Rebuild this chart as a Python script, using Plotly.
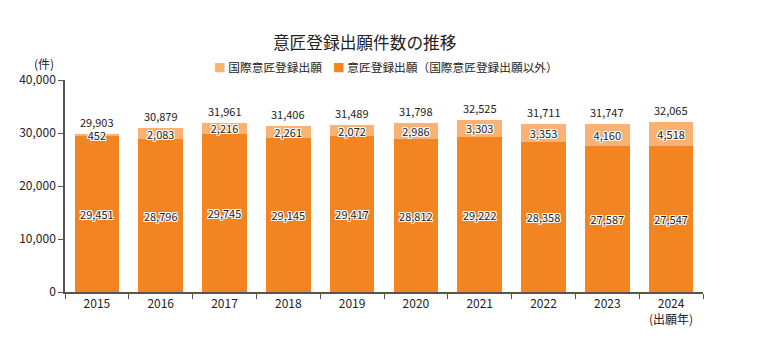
import plotly.graph_objects as go

years = ["2015", "2016", "2017", "2018", "2019", "2020", "2021", "2022", "2023", "2024"]
tick_labels = ["2015", "2016", "2017", "2018", "2019", "2020", "2021", "2022", "2023", "2024<br>(出願年)"]
domestic = [29451, 28796, 29745, 29145, 29417, 28812, 29222, 28358, 27587, 27547]
international = [452, 2083, 2216, 2261, 2072, 2986, 3303, 3353, 4160, 4518]
totals = [29903, 30879, 31961, 31406, 31489, 31798, 32525, 31711, 31747, 32065]
series_names = ["国際意匠登録出願", "意匠登録出願（国際意匠登録出願以外）"]

DARK = "#F28522"
LIGHT = "#F9B273"
JP = "Noto Sans CJK JP"
halo = "1px 1px 0 #fff, -1px -1px 0 #fff, 1px -1px 0 #fff, -1px 1px 0 #fff, 0 1px 0 #fff, 0 -1px 0 #fff, 1px 0 0 #fff, -1px 0 0 #fff"

fig = go.Figure()
fig.add_trace(go.Bar(
    x=years, y=domestic, name=series_names[1], showlegend=False,
    marker=dict(color=DARK, line=dict(width=0)),
    text=[f"{v:,}" for v in domestic], textposition="inside", insidetextanchor="middle",
    constraintext="none", textangle=0,
    textfont=dict(family=JP, size=11, color="#222", shadow=halo),
))
fig.add_trace(go.Bar(
    x=years, y=international, name=series_names[0], showlegend=False,
    marker=dict(color=LIGHT, line=dict(width=0)),
    text=[f"{v:,}" for v in international], textposition="inside", insidetextanchor="middle",
    constraintext="none", textangle=0,
    textfont=dict(family=JP, size=11, color="#222", shadow=halo),
))

annotations = [dict(x=i, y=t, xref="x", yref="y", text=f"{t:,}", showarrow=False,
                    yanchor="bottom", yshift=2, font=dict(family=JP, size=11, color="#222"))
               for i, t in enumerate(totals)]
annotations.append(dict(text="(件)", xref="paper", yref="paper", x=-0.033, y=1.078,
                        xanchor="center", yanchor="middle", showarrow=False,
                        font=dict(family=JP, size=12, color="#222")))
# legend drawn as text items
for lx, col, name in [(0.230, LIGHT, series_names[0]), (0.417, DARK, series_names[1])]:
    annotations.append(dict(text=f"<span style='color:{col}'>■</span> {name}",
                            xref="paper", yref="paper", x=lx, y=1.063,
                            xanchor="left", yanchor="middle", showarrow=False,
                            font=dict(family=JP, size=11.7, color="#222")))

fig.update_layout(
    width=763, height=351,
    margin=dict(l=65, r=60, t=80, b=59),
    barmode="stack", bargap=0.3, showlegend=False,
    plot_bgcolor="white", paper_bgcolor="white",
    font=dict(family=JP, size=12, color="#222"),
    title=dict(text="意匠登録出願件数の推移", x=0.478, xref="container", xanchor="center",
               y=1 - 43 / 351, yanchor="middle", font=dict(family=JP, size=16.7, color="#222")),
    xaxis=dict(type="category", tickvals=years, ticktext=tick_labels,
               showline=True, linecolor="#555", linewidth=1.5,
               ticks="outside", tickson="boundaries", ticklen=5, tickcolor="#555",
               tickfont=dict(family=JP, size=12, color="#222"), showgrid=False),
    yaxis=dict(range=[0, 40000], tickvals=[0, 10000, 20000, 30000, 40000],
               tickformat=",", showline=True, linecolor="#555", linewidth=1.5,
               ticks="outside", ticklen=5, tickcolor="#555", showgrid=False, zeroline=False,
               tickfont=dict(family=JP, size=12, color="#222")),
    annotations=annotations,
)

fig.write_html("out.html")
